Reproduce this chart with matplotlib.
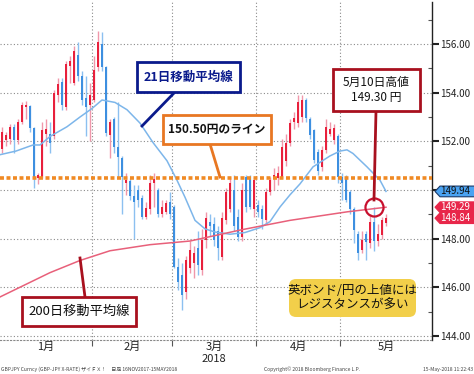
import matplotlib
matplotlib.use("Agg")
import matplotlib.pyplot as plt
import numpy as np
from matplotlib.patches import Rectangle, FancyBboxPatch, Polygon
from matplotlib.lines import Line2D
import matplotlib.transforms as mtransforms

plt.rcParams['font.family'] = ['Noto Sans CJK JP', 'DejaVu Sans']

# ---------------- data ----------------
opens = [151.7, 152.05, 152.1, 152.6, 152.05, 152.8, 153.4, 153.45, 152.55, 150.5,
         150.55, 152.3, 152.3, 152.2, 153.9, 154.45, 153.4, 155.1, 154.4, 155.55,
         154.7, 153.8, 153.5, 153.7, 155.05, 156.0, 155.05, 152.25, 152.9, 151.75,
         151.3, 150.3, 150.35, 149.75, 150.0, 149.65, 148.9, 149.2, 150.3, 150.0,
         149.0, 149.1, 149.5, 149.3, 146.85, 146.5, 145.8, 146.8, 147.0, 147.6,
         146.7, 147.95, 148.7, 148.6, 148.3, 147.25, 148.75, 149.2, 150.0, 148.9,
         148.05, 150.55, 150.5, 149.2, 149.4, 149.2, 148.75, 149.9, 150.45, 150.5,
         150.55, 151.2, 151.95, 152.8, 152.75, 153.0, 153.7, 152.9, 152.45, 151.55,
         150.95, 151.65, 152.3, 152.05, 152.2, 150.55, 150.55, 149.9, 149.2, 148.2,
         147.55, 148.2, 147.8, 148.7, 147.9, 148.15, 148.65]
highs = [152.6, 152.4, 152.7, 152.7, 152.9, 153.6, 153.65, 153.5, 152.6, 150.7,
         152.8, 152.9, 152.8, 154.1, 154.6, 154.6, 155.3, 155.5, 155.9, 156.1,
         154.9, 154.7, 154.4, 155.5, 156.55, 156.5, 155.1, 152.9, 153.0, 153.6,
         151.4, 150.7, 150.5, 150.2, 150.2, 149.8, 149.5, 150.6, 150.7, 150.1,
         149.6, 149.6, 149.9, 149.4, 147.2, 147.0, 147.3, 147.9, 147.7, 148.3,
         148.4, 149.1, 149.0, 148.9, 148.5, 149.1, 150.1, 150.55, 150.6, 149.2,
         150.3, 150.6, 150.6, 150.5, 149.6, 149.4, 150.1, 150.55, 150.9, 151.0,
         152.1, 152.3, 152.9, 153.2, 153.9, 153.9, 153.8, 153.0, 152.5, 151.7,
         151.8, 152.9, 152.8, 152.7, 152.3, 150.7, 150.6, 150.0, 149.3, 148.3,
         148.3, 148.3, 149.0, 149.3, 148.6, 148.9, 149.0]
lows = [151.5, 151.8, 151.9, 151.5, 151.9, 152.7, 152.9, 152.4, 150.1, 150.25,
        150.5, 151.8, 151.5, 152.1, 153.6, 153.3, 153.3, 154.4, 154.3, 154.5,
        153.5, 152.2, 152.0, 153.6, 154.9, 154.9, 152.2, 151.3, 151.5, 150.55,
        149.0, 149.8, 149.6, 148.0, 149.3, 148.8, 148.8, 149.0, 149.3, 148.9,
        148.9, 149.0, 148.8, 146.8, 145.9, 145.05, 145.5, 146.6, 146.4, 146.5,
        146.5, 147.6, 148.1, 147.7, 147.1, 147.1, 148.6, 149.1, 148.3, 147.9,
        147.9, 149.1, 149.2, 148.9, 148.9, 148.4, 148.6, 149.8, 150.0, 150.2,
        150.5, 151.0, 151.8, 152.5, 152.6, 152.8, 152.8, 152.1, 151.1, 150.6,
        150.8, 151.5, 152.2, 151.9, 150.3, 149.6, 149.5, 149.0, 147.8, 147.1,
        147.4, 147.1, 147.6, 147.5, 147.7, 148.0, 148.5]
closes = [152.4, 152.25, 152.6, 152.05, 152.8, 153.5, 153.5, 152.55, 150.55, 150.6,
          152.45, 152.5, 151.95, 154.0, 154.35, 153.5, 155.2, 155.3, 155.7, 154.7,
          153.7, 153.4, 153.9, 154.95, 156.1, 155.05, 152.35, 152.8, 151.75, 151.35,
          150.55, 150.4, 149.75, 149.5, 149.6, 148.9, 149.25, 150.3, 150.45, 149.0,
          149.3, 149.45, 149.0, 146.85, 146.2, 145.7, 147.1, 147.55, 147.4, 146.9,
          147.95, 148.85, 148.5, 147.95, 147.6, 148.85, 149.9, 150.3, 148.5, 148.05,
          150.0, 149.3, 149.3, 150.4, 149.1, 148.8, 149.9, 150.4, 150.6, 150.7,
          151.75, 151.95, 152.75, 152.95, 153.6, 153.7, 152.95, 152.25, 151.25, 150.8,
          151.65, 152.6, 152.5, 152.55, 150.55, 150.3, 149.6, 149.2, 148.35, 147.4,
          147.95, 147.85, 148.7, 147.9, 148.2, 148.75, 148.84]

ma21_idx = [-0.5, 3.5, 7.75, 9.5, 12, 16.25, 19.5, 22.5, 25, 28.25, 31.25, 34.5,
            37.75, 41.25, 43.75, 45.75, 48.25, 50.75, 53.25, 57, 60.75, 64.5, 67,
            69.5, 72, 74.5, 77.75, 82, 84.5, 86.25, 87.75, 91.25, 94.5, 96]
ma21_val = [151.45, 151.6, 151.85, 151.85, 152.2, 152.6, 153.0, 153.35, 153.7,
            153.6, 153.3, 152.75, 151.95, 151.2, 150.4, 149.7, 148.75, 148.4,
            148.27, 148.18, 148.25, 148.45, 148.7, 149.3, 149.8, 150.25, 150.95,
            151.4, 151.6, 151.65, 151.5, 150.95, 150.4, 149.94]

ma200_idx = [-0.5, 4.5, 12, 19.5, 27, 37, 47, 59.5, 72, 86.25, 96]
ma200_val = [145.6, 146.0, 146.6, 147.1, 147.5, 147.75, 147.9, 148.35, 148.75,
             149.1, 149.29]

line_level = 150.50
high_level = 149.30
high_idx = 93
month_labels = ['1月', '2月', '3月', '4月', '5月']
month_bounds = [-0.5, 22.5, 42.5, 63.5, 84.5, 107.5]
yticks = [144, 146, 148, 150, 152, 154, 156]
tag_values = [149.94, 149.29, 148.84]
tag_kinds = ['blue', 'red', 'red']

# ---------------- figure ----------------
W, H = 474, 374
fig = plt.figure(figsize=(W / 100, H / 100), dpi=100)
ax = fig.add_axes([0, 1 - 340 / H, 432 / W, 338 / H])
ax.set_xlim(-0.5, 107.5)
ax.set_ylim(143.83, 157.73)

RED = '#E8203C'
BLUE = '#3D8FE0'
RED_W = '#F097AA'
BLUE_W = '#8CC0F0'

idx = np.arange(len(opens))
o = np.array(opens); c = np.array(closes); h = np.array(highs); l = np.array(lows)
up = c >= o
wcol = np.where(up, RED_W, BLUE_W)
bcol = np.where(up, RED, BLUE)
ax.vlines(idx, l, h, colors=wcol, lw=1.0, zorder=3)
bottoms = np.minimum(o, c)
heights = np.maximum(np.abs(c - o), 0.06)
ax.bar(idx, heights, bottom=bottoms, width=0.72, color=bcol, lw=0, zorder=4)

ax.plot(ma21_idx, ma21_val, color='#7DB6EA', lw=1.1, zorder=5)
ax.plot(ma200_idx, ma200_val, color='#E8607A', lw=1.1, zorder=5)
ax.axhline(line_level, color='#F08A24', lw=2.6, linestyle=(0, (1.1, 0.7)), zorder=6)

ax.plot([high_idx], [high_level], marker='o', ms=13, mfc='none', mec='#C8102E',
        mew=1.6, zorder=7)

# grid
for yv in yticks:
    ax.axhline(yv, color='#8A8A8A', lw=0.8, linestyle=(0, (1, 2)), zorder=1)
for xv in month_bounds[1:-1]:
    ax.axvline(xv, color='#8A8A8A', lw=0.8, linestyle=(0, (1, 2)), zorder=1)

# axes styling
ax.spines['left'].set_visible(False)
ax.spines['top'].set_visible(False)
ax.spines['bottom'].set_color('#888888')
ax.spines['bottom'].set_linestyle((0, (1, 2)))
ax.spines['right'].set_color('#222222')
ax.spines['right'].set_linewidth(1.0)

ax.yaxis.tick_right()
ax.set_yticks(yticks)
ax.set_yticklabels([f'{v:.2f}' for v in yticks], fontsize=7)
ax.set_yticks([145, 147, 149, 151, 153, 155, 157], minor=True)
ax.tick_params(axis='y', which='major', direction='out', length=5, width=1.5, pad=1,
               colors='#222222', labelcolor='#222222')
ax.tick_params(axis='y', which='minor', direction='in', length=3, width=0.8,
               colors='#555555')

ax.set_xticks(month_bounds[1:-1])
ax.set_xticklabels([])
centers = [(month_bounds[i] + month_bounds[i + 1]) / 2 for i in range(5)]
ax.set_xticks(centers, minor=True)
ax.set_xticklabels(month_labels, minor=True, fontsize=8)
ax.tick_params(axis='x', which='major', direction='out', length=4, width=0.8,
               colors='#555555')
ax.tick_params(axis='x', which='minor', length=0, pad=1, labelcolor='#222222')

# right tags
trans = mtransforms.blended_transform_factory(ax.transAxes, ax.transData)
hh = 0.22
for v, kind in zip(tag_values, tag_kinds):
    x0, x1, x2 = 435 / 432, 440 / 432, 480 / 432
    face = '#4AA3F2' if kind == 'blue' else '#E8274A'
    edge = '#1A3A6A' if kind == 'blue' else '#E8274A'
    tcol = '#111111' if kind == 'blue' else 'white'
    poly = Polygon([[x0, v], [x1, v + hh], [x2, v + hh], [x2, v - hh], [x1, v - hh]],
                   closed=True, transform=trans, clip_on=False, facecolor=face,
                   edgecolor=edge, lw=0.8, zorder=10)
    ax.add_patch(poly)
    ax.text(455 / 432, v, f'{v:.2f}', transform=trans, fontsize=7, color=tcol,
            ha='center', va='center', clip_on=False, zorder=11)


def fx(x):
    return x / W


def fy(y):
    return 1 - y / H


def box(x0, y0, x1, y1, edge, lw=2.0):
    r = Rectangle((fx(x0), fy(y1)), fx(x1) - fx(x0), fy(y0) - fy(y1),
                  transform=fig.transFigure, facecolor='white', edgecolor=edge,
                  lw=lw, zorder=20)
    fig.add_artist(r)


def pline(x0, y0, x1, y1, col, lw=2.0):
    fig.add_artist(Line2D([fx(x0), fx(x1)], [fy(y0), fy(y1)], transform=fig.transFigure,
                          color=col, lw=lw, zorder=19))


NAVY = '#0A1A8C'
ORANGE = '#E87722'
DRED = '#A8101E'

pline(142, 126, 175, 92, NAVY)
box(137, 62, 240, 92, NAVY)
fig.text(fx(188.5), fy(77), '21日移動平均線', ha='center', va='center', fontsize=9,
         fontweight='bold', color=NAVY, zorder=21)

pline(210, 144, 220, 177, ORANGE)
box(163, 115, 271, 144, ORANGE)
fig.text(fx(217), fy(129.5), '150.50円のライン', ha='center', va='center', fontsize=8.5,
         fontweight='bold', color='#111111', zorder=21)

pline(376, 111, 374, 200, DRED)
box(333, 69, 420, 111, DRED)
fig.text(fx(376.5), fy(90), '5月10日高値\n149.30 円', ha='center', va='center',
         fontsize=8.5, color='#111111', linespacing=1.2, zorder=21)

pline(80, 258, 85, 297, DRED)
box(22, 297, 136, 326, DRED)
fig.text(fx(79), fy(311.5), '200日移動平均線', ha='center', va='center', fontsize=9.5,
         color='#111111', zorder=21)

yb = FancyBboxPatch((fx(289), fy(317)), fx(416) - fx(289), fy(279) - fy(317),
                    boxstyle='round,pad=0,rounding_size=0.015',
                    transform=fig.transFigure, facecolor='#F2CF4A', edgecolor='none',
                    zorder=20, mutation_aspect=W / H)
fig.add_artist(yb)
fig.text(fx(352.5), fy(298), '英ボンド/円の上値には\nレジスタンスが多い', ha='center',
         va='center', fontsize=9, color='#111111', linespacing=1.15, zorder=21)

fig.text(fx(214), fy(359), '2018', ha='center', va='center', fontsize=8,
         color='#222222')
fig.text(fx(1), fy(369), 'GBPJPY Curncy (GBP-JPY X-RATE) ザイＦＸ！　日足 16NOV2017-15MAY2018',
         ha='left', va='center', fontsize=3.6, color='#444444')
fig.text(fx(312), fy(369), 'Copyright© 2018 Bloomberg Finance L.P.', ha='center',
         va='center', fontsize=3.6, color='#444444')
fig.text(fx(473), fy(369), '15-May-2018 11:22:43', ha='right', va='center',
         fontsize=3.6, color='#444444')

fig.savefig('out.png', dpi=100)
